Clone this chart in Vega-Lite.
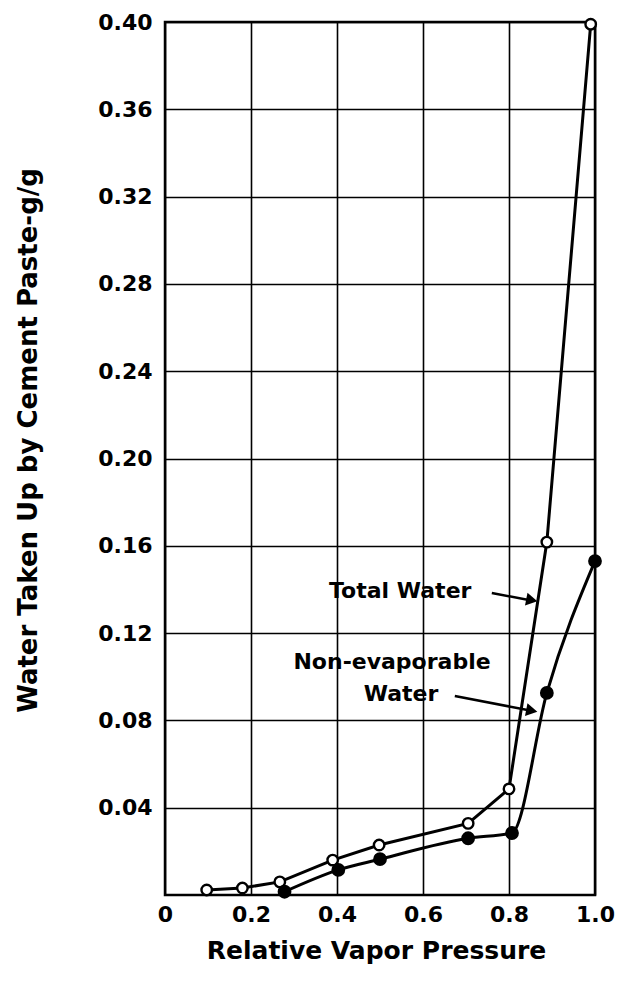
{
  "$schema": "https://vega.github.io/schema/vega-lite/v6.json",
  "width": 430,
  "height": 873,
  "autosize": {"type": "none"},
  "padding": {"left": 165, "top": 22, "right": 22, "bottom": 95},
  "background": "white",
  "config": {
    "view": {"stroke": "black", "strokeWidth": 2.5},
    "axis": {
      "domain": false,
      "ticks": false,
      "grid": true,
      "gridColor": "black",
      "gridOpacity": 1,
      "gridWidth": 1.6,
      "labelFont": "DejaVu Sans",
      "labelFontWeight": "bold",
      "labelFontSize": 22,
      "labelColor": "black",
      "titleColor": "black"
    }
  },
  "datasets": {
    "series": [
      {"series": "Total Water", "p": 0.097, "w": 0.0023},
      {"series": "Total Water", "p": 0.18, "w": 0.0032},
      {"series": "Total Water", "p": 0.267, "w": 0.006},
      {"series": "Total Water", "p": 0.39, "w": 0.016},
      {"series": "Total Water", "p": 0.498, "w": 0.0229},
      {"series": "Total Water", "p": 0.705, "w": 0.0328},
      {"series": "Total Water", "p": 0.80, "w": 0.0486},
      {"series": "Total Water", "p": 0.888, "w": 0.1617},
      {"series": "Total Water", "p": 0.99, "w": 0.399},
      {"series": "Non-evaporable Water", "p": 0.278, "w": 0.0015},
      {"series": "Non-evaporable Water", "p": 0.403, "w": 0.0115},
      {"series": "Non-evaporable Water", "p": 0.50, "w": 0.0164},
      {"series": "Non-evaporable Water", "p": 0.705, "w": 0.026},
      {"series": "Non-evaporable Water", "p": 0.807, "w": 0.0284},
      {"series": "Non-evaporable Water", "p": 0.888, "w": 0.0926},
      {"series": "Non-evaporable Water", "p": 1.0, "w": 0.153}
    ],
    "labels": [
      {"label": "Total Water", "p": 0.547, "w": 0.1393},
      {"label": "Non-evaporable", "p": 0.528, "w": 0.1068},
      {"label": "Water", "p": 0.549, "w": 0.0921}
    ],
    "arrows": [
      {"p": 0.76, "w": 0.1384, "p2": 0.855, "w2": 0.1348, "hp": 0.853, "hw": 0.1351, "ang": 11},
      {"p": 0.674, "w": 0.0912, "p2": 0.855, "w2": 0.0843, "hp": 0.853, "hw": 0.0844, "ang": 11}
    ]
  },
  "layer": [
    {
      "data": {"name": "series"},
      "transform": [{"filter": "datum.series == 'Total Water'"}],
      "mark": {"type": "line", "color": "black", "strokeWidth": 3, "interpolate": "linear"},
      "encoding": {
        "x": {
          "field": "p", "type": "quantitative",
          "scale": {"domain": [0, 1], "nice": false, "zero": false},
          "axis": {
            "values": [0, 0.2, 0.4, 0.6, 0.8, 1.0],
            "labelExpr": "datum.value == 0 ? '0' : format(datum.value, '.1f')",
            "labelFlush": false,
            "labelPadding": 9,
            "title": "Relative Vapor Pressure",
            "titleFont": "DejaVu Sans",
            "titleFontWeight": "bold",
            "titleFontSize": 25,
            "titleX": 211,
            "titleY": 63,
            "titleAlign": "center",
            "titleBaseline": "alphabetic"
          }
        },
        "y": {
          "field": "w", "type": "quantitative",
          "scale": {"domain": [0, 0.4], "nice": false, "zero": false},
          "axis": {
            "values": [0.04, 0.08, 0.12, 0.16, 0.2, 0.24, 0.28, 0.32, 0.36, 0.4],
            "format": ".2f",
            "labelPadding": 13,
            "title": "Water Taken Up by Cement Paste-g/g",
            "titleFont": "DejaVu Sans",
            "titleFontWeight": "bold",
            "titleFontSize": 26,
            "titleAngle": 270,
            "titleX": -137,
            "titleY": 418,
            "titleAlign": "center",
            "titleBaseline": "middle"
          }
        }
      }
    },
    {
      "data": {"name": "series"},
      "transform": [{"filter": "datum.series == 'Non-evaporable Water'"}],
      "mark": {"type": "line", "color": "black", "strokeWidth": 3, "interpolate": "monotone"},
      "encoding": {
        "x": {"field": "p", "type": "quantitative"},
        "y": {"field": "w", "type": "quantitative"}
      }
    },
    {
      "data": {"name": "series"},
      "mark": {"type": "point", "shape": "circle", "stroke": "black", "strokeWidth": 2.4, "opacity": 1, "filled": false},
      "encoding": {
        "x": {"field": "p", "type": "quantitative"},
        "y": {"field": "w", "type": "quantitative"},
        "fill": {
          "field": "series", "type": "nominal",
          "scale": {"domain": ["Total Water", "Non-evaporable Water"], "range": ["white", "black"]},
          "legend": null
        },
        "size": {
          "field": "series", "type": "nominal",
          "scale": {"domain": ["Total Water", "Non-evaporable Water"], "range": [110, 130]},
          "legend": null
        }
      }
    },
    {
      "data": {"name": "labels"},
      "mark": {"type": "text", "font": "DejaVu Sans", "fontWeight": "bold", "fontSize": 22, "color": "black", "align": "center", "baseline": "middle"},
      "encoding": {
        "x": {"field": "p", "type": "quantitative"},
        "y": {"field": "w", "type": "quantitative"},
        "text": {"field": "label"}
      }
    },
    {
      "data": {"name": "arrows"},
      "mark": {"type": "rule", "color": "black", "strokeWidth": 2.5},
      "encoding": {
        "x": {"field": "p", "type": "quantitative"},
        "y": {"field": "w", "type": "quantitative"},
        "x2": {"field": "p2"},
        "y2": {"field": "w2"}
      }
    },
    {
      "data": {"name": "arrows"},
      "mark": {"type": "point", "shape": "triangle-right", "filled": true, "color": "black", "size": 170, "opacity": 1},
      "encoding": {
        "x": {"field": "hp", "type": "quantitative"},
        "y": {"field": "hw", "type": "quantitative"},
        "angle": {"field": "ang", "type": "quantitative", "scale": null}
      }
    }
  ]
}
